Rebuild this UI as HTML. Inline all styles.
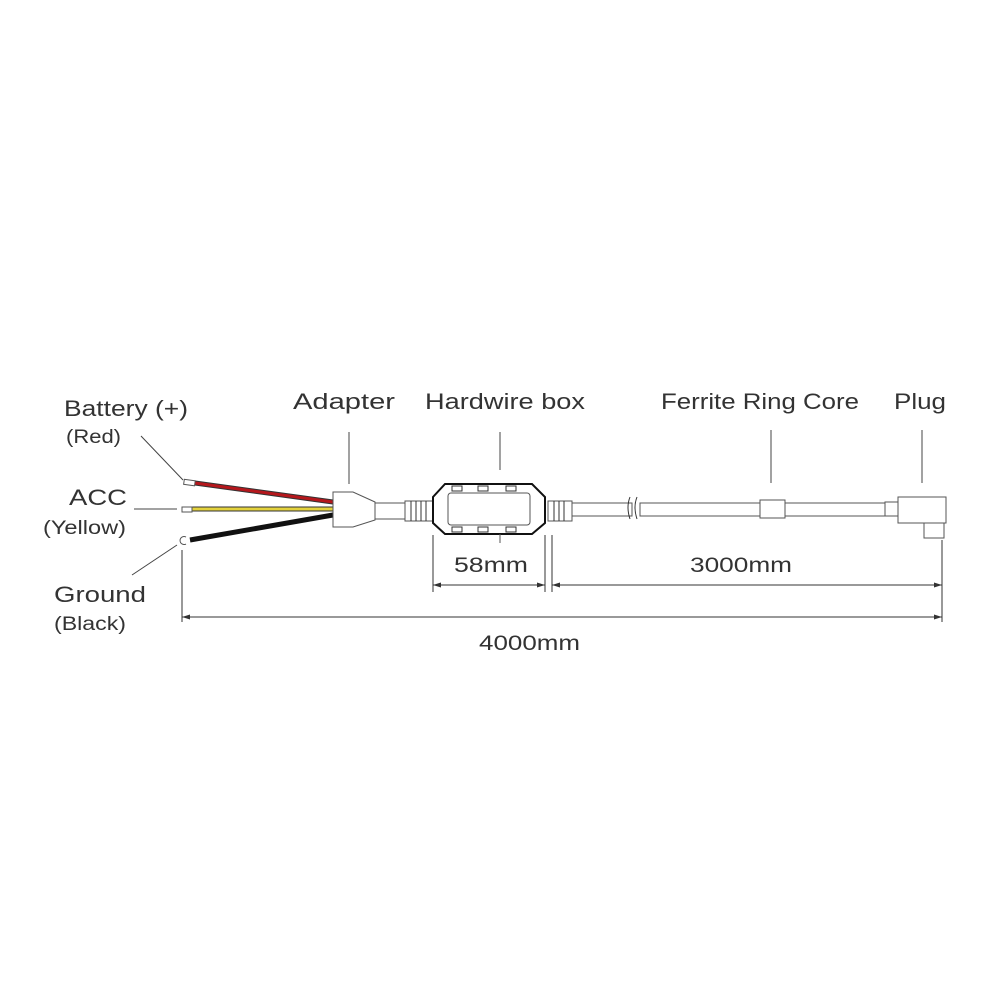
<!DOCTYPE html>
<html><head><meta charset="utf-8"><style>
html,body{margin:0;padding:0;background:#fff;}
svg{display:block;}
text{font-family:"Liberation Sans",sans-serif;fill:#333;}
</style></head><body>
<svg width="1000" height="1000" viewBox="0 0 1000 1000" xmlns="http://www.w3.org/2000/svg">
<g stroke="#444" stroke-width="1" fill="none">
<line x1="141" y1="436" x2="183" y2="480"/>
<line x1="134" y1="509" x2="177" y2="509"/>
<line x1="132" y1="575" x2="177" y2="545"/>
<line x1="349" y1="432" x2="349" y2="484"/>
<line x1="500" y1="432" x2="500" y2="470"/>
<line x1="771" y1="430" x2="771" y2="483"/>
<line x1="922" y1="430" x2="922" y2="483"/>
</g>
<line x1="195" y1="483" x2="333" y2="502" stroke="#333" stroke-width="5"/>
<line x1="195" y1="483" x2="333" y2="502" stroke="#b5171c" stroke-width="3"/>
<line x1="192" y1="509" x2="333" y2="509" stroke="#333" stroke-width="5"/>
<line x1="192" y1="509" x2="333" y2="509" stroke="#e3d23c" stroke-width="3"/>
<line x1="190" y1="540" x2="333" y2="515" stroke="#111" stroke-width="5"/>
<g stroke="#555" stroke-width="1" fill="#fff">
<rect x="184" y="480" width="11" height="5" transform="rotate(8 189 482)"/>
<rect x="182" y="507" width="10" height="5"/>
<path d="M186 537 a4 4 0 1 0 0 7" />
<path d="M333 492 L353 492 L375 502 L375 520 L353 527 L333 527 Z"/>
<rect x="375" y="503" width="30" height="16"/>
<rect x="405" y="501" width="28" height="20"/>
<rect x="572" y="503" width="60" height="13"/>
<rect x="640" y="503" width="120" height="13"/>
<rect x="785" y="503" width="100" height="13"/>
<rect x="548" y="501" width="24" height="20"/>
<rect x="760" y="500" width="25" height="18"/>
<rect x="885" y="502" width="13" height="14"/>
<rect x="898" y="497" width="48" height="26"/>
<rect x="924" y="523" width="20" height="15"/>
<path d="M445 484 L532 484 L545 497 L545 523 L532 534 L445 534 L433 523 L433 497 Z" stroke="#111" stroke-width="2"/>
<rect x="448" y="493" width="82" height="32" rx="3"/>
<line x1="500" y1="534" x2="500" y2="543"/>
</g>
<g stroke="#333" stroke-width="1" fill="none">
<line x1="411" y1="501" x2="411" y2="521"/><line x1="416" y1="501" x2="416" y2="521"/><line x1="421" y1="501" x2="421" y2="521"/><line x1="426" y1="501" x2="426" y2="521"/>
<line x1="554" y1="501" x2="554" y2="521"/><line x1="559" y1="501" x2="559" y2="521"/><line x1="564" y1="501" x2="564" y2="521"/>
<path d="M630 497 q-4 10 0 22 M637 497 q-4 10 0 22"/>
<path d="M452 486h10v5h-10z M478 486h10v5h-10z M506 486h10v5h-10z M452 527h10v5h-10z M478 527h10v5h-10z M506 527h10v5h-10z"/>
<line x1="433" y1="535" x2="433" y2="592"/>
<line x1="545" y1="535" x2="545" y2="592"/>
<line x1="552" y1="535" x2="552" y2="592"/>
<line x1="942" y1="540" x2="942" y2="622"/>
<line x1="182" y1="550" x2="182" y2="622"/>
<line x1="433" y1="585" x2="545" y2="585"/>
<line x1="552" y1="585" x2="942" y2="585"/>
<line x1="182" y1="617" x2="942" y2="617"/>
</g>
<g fill="#333">
<path d="M433 585 l8 -2.5 v5z M545 585 l-8 -2.5 v5z M552 585 l8 -2.5 v5z M942 585 l-8 -2.5 v5z M182 617 l8 -2.5 v5z M942 617 l-8 -2.5 v5z"/>
</g>
<g lengthAdjust="spacingAndGlyphs">
<text x="64" y="416" font-size="22" textLength="124" lengthAdjust="spacingAndGlyphs">Battery (+)</text>
<text x="66" y="443" font-size="19" textLength="55" lengthAdjust="spacingAndGlyphs">(Red)</text>
<text x="69" y="505" font-size="22" textLength="58" lengthAdjust="spacingAndGlyphs">ACC</text>
<text x="43" y="534" font-size="19" textLength="83" lengthAdjust="spacingAndGlyphs">(Yellow)</text>
<text x="54" y="602" font-size="22" textLength="92" lengthAdjust="spacingAndGlyphs">Ground</text>
<text x="54" y="630" font-size="19" textLength="72" lengthAdjust="spacingAndGlyphs">(Black)</text>
<text x="293" y="409" font-size="22" textLength="102" lengthAdjust="spacingAndGlyphs">Adapter</text>
<text x="425" y="409" font-size="22" textLength="160" lengthAdjust="spacingAndGlyphs">Hardwire box</text>
<text x="661" y="409" font-size="22" textLength="198" lengthAdjust="spacingAndGlyphs">Ferrite Ring Core</text>
<text x="894" y="409" font-size="22" textLength="52" lengthAdjust="spacingAndGlyphs">Plug</text>
<text x="454" y="572" font-size="21" textLength="74" lengthAdjust="spacingAndGlyphs">58mm</text>
<text x="690" y="572" font-size="21" textLength="102" lengthAdjust="spacingAndGlyphs">3000mm</text>
<text x="479" y="650" font-size="21" textLength="101" lengthAdjust="spacingAndGlyphs">4000mm</text>
</g>
</svg>
</body></html>
